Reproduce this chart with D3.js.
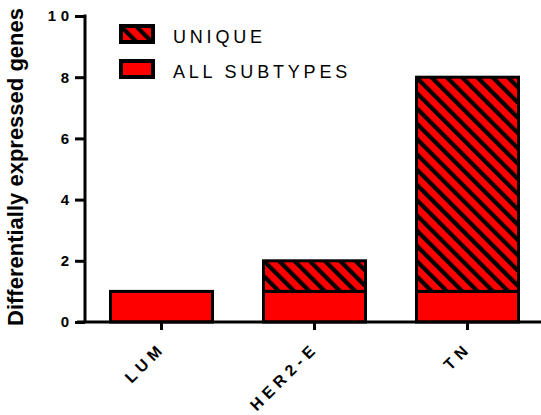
<!DOCTYPE html>
<html><head><meta charset="utf-8">
<script src="https://cdn.jsdelivr.net/npm/d3@7"></script>
<style>body{margin:0;background:#fff}</style>
</head><body>
<svg id="c" width="541" height="415"></svg>
<script>
const categories = ["LUM", "HER2-E", "TN"];
const allSubtypes = [1, 1, 1];
const unique = [0, 1, 7];
const yTicks = [0, 2, 4, 6, 8, 10];
const legendLabels = ["UNIQUE", "ALL SUBTYPES"];
const yTitle = "Differentially expressed genes";

const FONT = "Liberation Sans, Arial, sans-serif";
const svg = d3.select("#c");
const defs = svg.append("defs");
const pat = defs.append("pattern").attr("id","hatch").attr("patternUnits","userSpaceOnUse")
  .attr("width",10.8).attr("height",10.8).attr("patternTransform","rotate(-45)");
pat.append("rect").attr("width",10.8).attr("height",10.8).attr("fill","#ff0000");
pat.append("rect").attr("width",4.2).attr("height",10.8).attr("fill","#000");

const x = d3.scaleBand().domain(categories).range([85, 544]).paddingInner(1/3).paddingOuter(1/6);
const y = d3.scaleLinear().domain([0, 10]).range([322, 16]);

// bars
const g = svg.append("g");
categories.forEach((c, i) => {
  const x0 = x(c), w = x.bandwidth();
  g.append("rect").attr("x", x0).attr("y", y(allSubtypes[i])).attr("width", w)
    .attr("height", y(0) - y(allSubtypes[i])).attr("fill", "#ff0000")
    .attr("stroke", "#000").attr("stroke-width", 3);
  if (unique[i] > 0) {
    g.append("rect").attr("x", x0).attr("y", y(allSubtypes[i] + unique[i])).attr("width", w)
      .attr("height", y(allSubtypes[i]) - y(allSubtypes[i] + unique[i])).attr("fill", "url(#hatch)")
      .attr("stroke", "#000").attr("stroke-width", 3);
  }
});

// y axis
const ya = svg.append("g").attr("transform", "translate(85,0)")
  .call(d3.axisLeft(y).tickValues(yTicks).tickSize(10).tickPadding(1.5).tickFormat(d3.format("d")));
ya.select(".domain").attr("stroke-width", 3).attr("d", "M0,322V14.5");
ya.selectAll(".tick line").attr("stroke-width", 3);
ya.selectAll(".tick text").attr("font-family", FONT)
  .attr("font-weight", "bold").attr("font-size", 15).attr("fill", "#000").attr("letter-spacing", 4.5);

// x axis
const xa = svg.append("g").attr("transform", "translate(0,322)")
  .call(d3.axisBottom(x).tickSize(8).tickFormat(""));
xa.select(".domain").attr("stroke-width", 3).attr("d", "M77,0H541");
xa.selectAll(".tick line").attr("stroke-width", 3);
xa.selectAll(".tick").append("text")
  .attr("transform", "translate(5,27) rotate(-45)")
  .attr("text-anchor", "end")
  .attr("font-family", FONT).attr("font-weight", "bold")
  .attr("font-size", 16).attr("letter-spacing", 5).attr("fill", "#000")
  .text(d => d);

// y title
svg.append("text").attr("transform", "translate(23,167) rotate(-90)")
  .attr("text-anchor", "middle").attr("font-family", FONT)
  .attr("font-weight", "bold").attr("font-size", 22).attr("fill", "#000").text(yTitle);

// legend
const lg = svg.append("g");
legendLabels.forEach((t, i) => {
  const yy = 24 + i * 35;
  lg.append("rect").attr("x", 121).attr("y", yy + 2).attr("width", 32).attr("height", 16)
    .attr("fill", i === 0 ? "url(#hatch)" : "#ff0000").attr("stroke", "#000").attr("stroke-width", 4);
  lg.append("text").attr("x", 173).attr("y", yy + 19.3)
    .attr("font-family", FONT).attr("font-size", 18)
    .attr("letter-spacing", 3.8).attr("fill", "#000").text(t);
});
</script>
</body></html>
